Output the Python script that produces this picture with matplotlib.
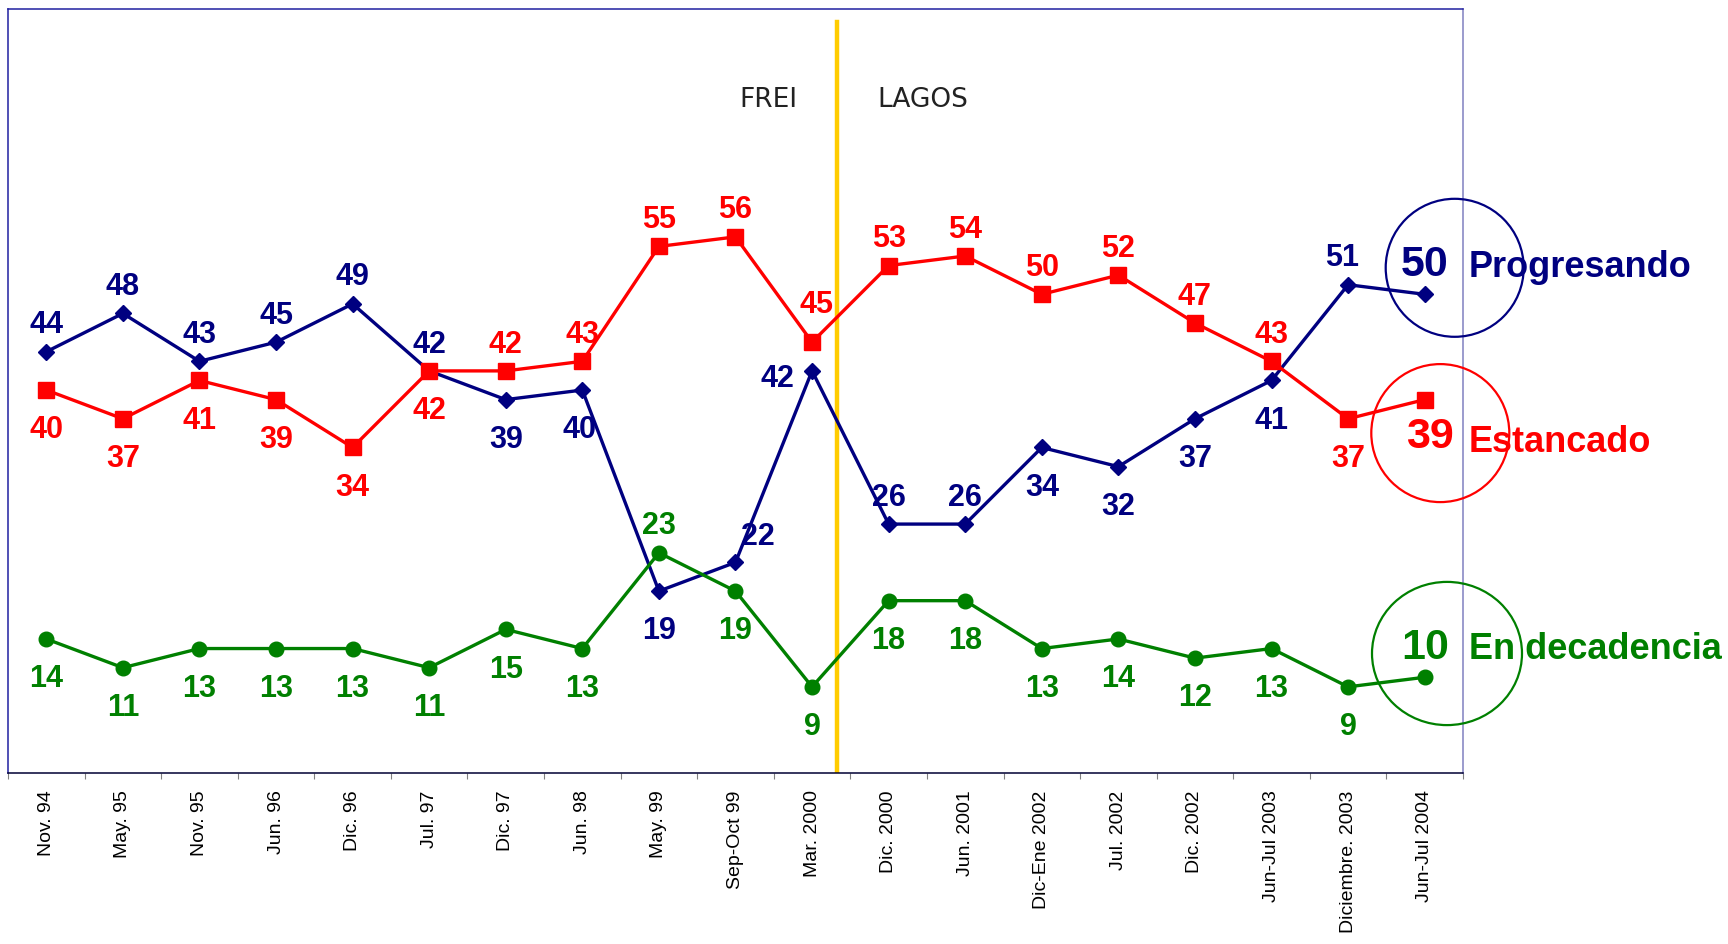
import matplotlib.pyplot as plt
from matplotlib.patches import Ellipse

# Survey dates (x categories).
periods = ["Nov. 94", "May. 95", "Nov. 95", "Jun. 96", "Dic. 96", "Jul. 97",
           "Dic. 97", "Jun. 98", "May. 99", "Sep-Oct 99", "Mar. 2000",
           "Dic. 2000", "Jun. 2001", "Dic-Ene 2002", "Jul. 2002", "Dic. 2002",
           "Jun-Jul 2003", "Diciembre. 2003", "Jun-Jul 2004"]

# Percentages for each answer.
progresando = [44, 48, 43, 45, 49, 42, 39, 40, 19, 22, 42, 26, 26, 34, 32, 37, 41, 51, 50]
estancado = [40, 37, 41, 39, 34, 42, 42, 43, 55, 56, 45, 53, 54, 50, 52, 47, 43, 37, 39]
decadencia = [14, 11, 13, 13, 13, 11, 15, 13, 23, 19, 9, 18, 18, 13, 14, 12, 13, 9, 10]

NAVY = "#000080"
RED = "#FF0000"
GREEN = "#008000"

plt.rcParams["font.family"] = ["Liberation Sans", "DejaVu Sans"]

fig = plt.figure(figsize=(17.28, 9.44), dpi=100)
ax = fig.add_axes([0.00463, 0.18114, 0.842, 0.80933])

x = list(range(len(periods)))

ax.plot(x, progresando, color=NAVY, lw=2.4, marker="D", ms=7.8, zorder=3)
ax.plot(x, estancado, color=RED, lw=2.4, marker="s", ms=11, zorder=3)
ax.plot(x, decadencia, color=GREEN, lw=2.4, marker="o", ms=10.5, zorder=3)

# Government change line (Frei -> Lagos).
ax.axvline(10.32, ymin=0, ymax=0.983, color="#FFCC00", lw=3.2, zorder=2)
ax.text(9.43, 70.3, "FREI", ha="center", va="center", fontsize=19,
        family="DejaVu Sans", color="#222222")
ax.text(11.45, 70.3, "LAGOS", ha="center", va="center", fontsize=19,
        family="DejaVu Sans", color="#222222")

# Label placement: 'a' above, 'b' below, plus special offsets (points).
prog_pos = ["a", "a", "a", "a", "a", "a", "b", "b", "b", "a", "l",
            "a", "a", "b", "b", "b", "b", "a", None]
est_pos = ["b", "b", "b", "b", "b", "b", "a", "a", "a", "a", "a",
           "a", "a", "a", "a", "a", "a", "b", None]
dec_pos = ["b", "b", "b", "b", "b", "b", "b", "b", "a", "b", "b",
           "b", "b", "b", "b", "b", "b", "b", None]

special = {
    ("p", 7): (-2, -29),
    ("p", 9): (16, 18),
    ("p", 10): (-25, -6),
    ("p", 17): (-4, 19),
    ("e", 10): (3, 27),
}


def label_series(vals, pos, color, key):
    for i, (v, p) in enumerate(zip(vals, pos)):
        if p is None:
            continue
        off = special.get((key, i))
        if off is None:
            off = (0, 19) if p == "a" else (0, -29)
        ax.annotate(str(v), (i, v), xytext=off, textcoords="offset points",
                    ha="center", va="center", fontsize=22, fontweight="bold",
                    color=color, zorder=4)


label_series(progresando, prog_pos, NAVY, "p")
label_series(estancado, est_pos, RED, "e")
label_series(decadencia, dec_pos, GREEN, "d")

# Latest values, big.
last = len(periods) - 1
ax.annotate(str(progresando[-1]), (last, progresando[-1]), xytext=(0, 21),
            textcoords="offset points", ha="center", va="center", fontsize=31,
            fontweight="bold", color=NAVY, annotation_clip=False)
ax.annotate(str(estancado[-1]), (last, estancado[-1]), xytext=(4, -27),
            textcoords="offset points", ha="center", va="center", fontsize=31,
            fontweight="bold", color=RED, annotation_clip=False)
ax.annotate(str(decadencia[-1]), (last, decadencia[-1]), xytext=(0, 21),
            textcoords="offset points", ha="center", va="center", fontsize=31,
            fontweight="bold", color=GREEN, annotation_clip=False)

# Series names to the right of the plot.
ytr = ax.get_yaxis_transform()
ax.text(1.004, 52.75, "Progresando", transform=ytr, ha="left", va="center",
        fontsize=26, fontweight="bold", color=NAVY, clip_on=False)
ax.text(1.004, 34.5, "Estancado", transform=ytr, ha="left", va="center",
        fontsize=26, fontweight="bold", color=RED, clip_on=False)
ax.text(1.004, 12.95, "En decadencia", transform=ytr, ha="left", va="center",
        fontsize=26, fontweight="bold", color=GREEN, clip_on=False)

# Circles around latest values (figure pixel positions).
W, H = 1728, 944
for cx, cy, rx, ry, col in [(1454.7, 267.8, 69, 69, NAVY),
                            (1440.3, 433.1, 69, 69, RED),
                            (1447, 653.5, 75, 71.6, GREEN)]:
    fig.add_artist(Ellipse((cx / W, 1 - cy / H), 2 * rx / W, 2 * ry / H,
                           transform=fig.transFigure, fill=False,
                           edgecolor=col, lw=1.6, zorder=5))

ax.set_xlim(-0.5, 18.5)
ax.set_ylim(0, 79.8)
ax.set_yticks([])

# Ticks at category boundaries, labels at centers.
ax.set_xticks([i - 0.5 for i in range(len(periods) + 1)])
ax.set_xticklabels([])
ax.set_xticks(x, minor=True)
ax.set_xticklabels(periods, minor=True, rotation=90, fontsize=14,
                   va="top", ha="center")
ax.tick_params(axis="x", which="major", length=4.3, color="#808080",
               direction="out")
ax.tick_params(axis="x", which="minor", length=0, pad=12.5)

ax.spines["left"].set_color("#2020A0")
ax.spines["top"].set_color("#2020A0")
ax.spines["right"].set_color("#8080C0")
ax.spines["bottom"].set_color("#000033")
for s in ax.spines.values():
    s.set_linewidth(1.1)

fig.savefig("out.png", dpi=100)
